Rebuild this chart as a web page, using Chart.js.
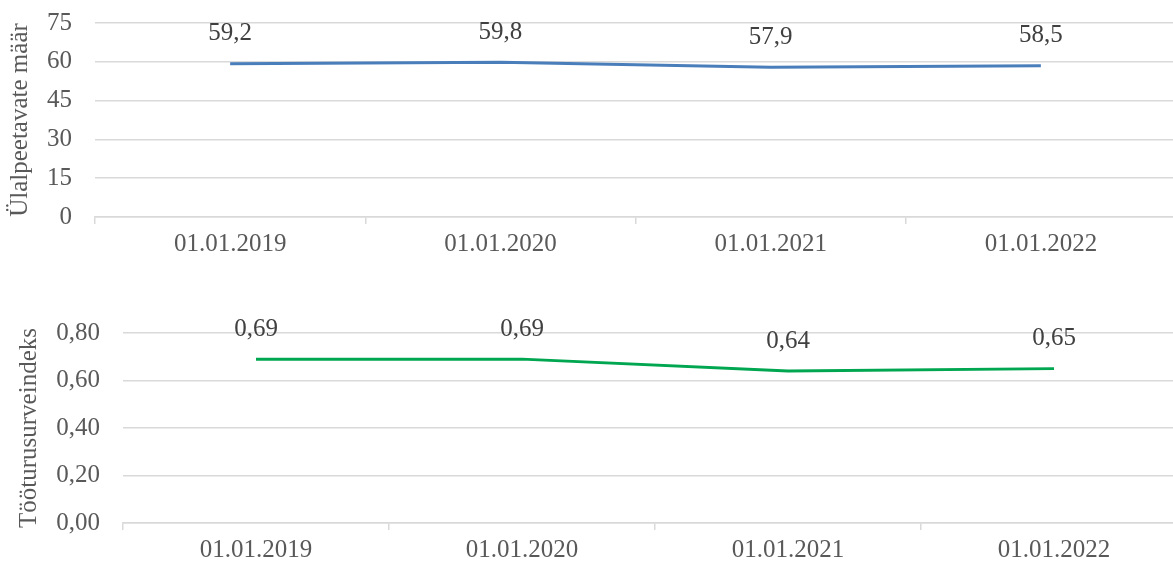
<!DOCTYPE html>
<html>
<head>
<meta charset="utf-8">
<script src="https://cdn.jsdelivr.net/npm/chart.js@4"></script>
<style>
  html, body { margin: 0; padding: 0; background: #fff; overflow: hidden; }
  body { width: 1173px; height: 561px; position: relative; }
  .box { position: absolute; left: 0; }
</style>
</head>
<body>
<div class="box" style="top:0; width:1176px; height:265px;"><canvas id="topChart"></canvas></div>
<div class="box" style="top:300px; width:1187px; height:261px;"><canvas id="bottomChart"></canvas></div>
<script>
// Data
const dates = ['01.01.2019', '01.01.2020', '01.01.2021', '01.01.2022'];
const dependencyRatio = [59.2, 59.8, 57.9, 58.5];
const labourPressure = [0.69, 0.69, 0.64, 0.65];
const ratioTicks = [0, 15, 30, 45, 60, 75];
const pressureTicks = [0, 0.2, 0.4, 0.6, 0.8];

const textColor = '#404040';
const axisColor = '#595959';
const gridColor = '#d9d9d9';
const font = { family: "'Liberation Serif', 'Times New Roman', serif", size: 25 };

// simple value labels above each point
const valueLabels = {
  id: 'valueLabels',
  afterDatasetsDraw(chart, args, opts) {
    const ctx = chart.ctx;
    chart.data.datasets.forEach((ds, i) => {
      chart.getDatasetMeta(i).data.forEach((pt, j) => {
        ctx.save();
        ctx.font = font.size + 'px ' + font.family;
        ctx.fillStyle = textColor;
        ctx.textAlign = 'center';
        ctx.textBaseline = 'middle';
        ctx.fillText(ds.data[j].toFixed(opts.digits).replace('.', ','), pt.x, pt.y - opts.offset);
        ctx.restore();
      });
    });
  }
};

function makeChart(id, values, ticksList, color, title, digits, axisWidth, axisHeight, padTop, titlePad) {
  const max = ticksList[ticksList.length - 1];
  const step = ticksList[1] - ticksList[0];
  return new Chart(document.getElementById(id).getContext('2d'), {
    type: 'line',
    data: {
      labels: dates,
      datasets: [{
        data: values,
        borderColor: color,
        borderWidth: 3,
        pointRadius: 0,
        tension: 0,
        fill: false
      }]
    },
    options: {
      responsive: true,
      maintainAspectRatio: false,
      animation: false,
      layout: { padding: { top: padTop, left: 0, right: 0, bottom: 0 } },
      plugins: {
        legend: { display: false },
        tooltip: { enabled: false },
        valueLabels: { digits: digits, offset: 30 }
      },
      scales: {
        x: {
          offset: true,
          grid: { offset: true, drawOnChartArea: false, drawTicks: true, tickLength: 7, color: gridColor, lineWidth: 1.5 },
          border: { display: true, color: gridColor, width: 1.5 },
          ticks: { color: axisColor, font: font, padding: 5, maxRotation: 0 },
          afterFit: s => { s.height = axisHeight; s.paddingLeft = 0; s.paddingRight = 0; }
        },
        y: {
          min: 0,
          max: max,
          grid: { color: gridColor, lineWidth: 1.5, drawTicks: false },
          border: { display: false },
          ticks: {
            stepSize: step,
            color: axisColor,
            font: font,
            padding: 23,
            callback: v => v.toFixed(digits === 1 ? 0 : 2).replace('.', ',')
          },
          title: { display: true, text: title, color: axisColor, font: font, padding: { top: titlePad, bottom: 0 } },
          afterFit: s => { s.width = axisWidth; s.paddingTop = 0; s.paddingBottom = 0; }
        }
      }
    },
    plugins: [valueLabels]
  });
}

makeChart('topChart', dependencyRatio, ratioTicks, '#4a7ebb', 'Ülalpeetavate määr', 1, 95, 48, 23, 5);
makeChart('bottomChart', labourPressure, pressureTicks, '#00a650', 'Tööturusurveindeks', 2, 123, 38, 33, 14);
</script>
</body>
</html>
